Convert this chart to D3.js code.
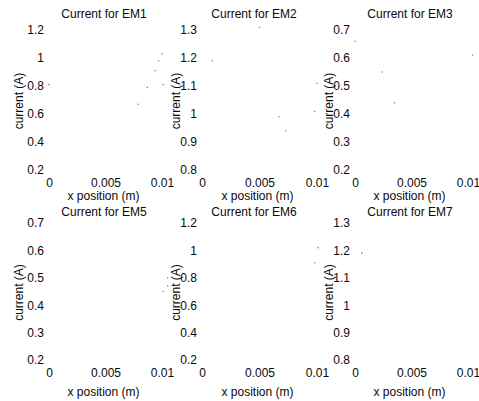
<!DOCTYPE html>
<html>
<head>
<meta charset="utf-8">
<script src="https://cdn.jsdelivr.net/npm/d3@7"></script>
<style>
  body { margin: 0; background: #fff; }
  svg { display: block; }
  text { font-family: "Liberation Sans", Arial, Helvetica, sans-serif; font-size: 12px; fill: #0a0a0a; }
</style>
</head>
<body>
<div id="chart"></div>
<script>
// panels, in reading order
var titles = ["Current for EM1", "Current for EM2", "Current for EM3",
              "Current for EM5", "Current for EM6", "Current for EM7"];
var yDomains = [[0.2, 1.2], [0.8, 1.3], [0.2, 0.7],
                [0.2, 0.7], [0.2, 1.2], [0.8, 1.3]];
var yTicks = [[0.2, 0.4, 0.6, 0.8, 1, 1.2],
              [0.8, 0.9, 1, 1.1, 1.2, 1.3],
              [0.2, 0.3, 0.4, 0.5, 0.6, 0.7],
              [0.2, 0.3, 0.4, 0.5, 0.6, 0.7],
              [0.2, 0.4, 0.6, 0.8, 1, 1.2],
              [0.8, 0.9, 1, 1.1, 1.2, 1.3]];
var xDomain = [0, 0.01];
var xTicks = [0, 0.005, 0.01];
var xLabel = "x position (m)";
var yLabel = "current (A)";

// the few faint samples that survive in the scan, [x, current]
var em1 = [[0.0, 0.81], [0.0079, 0.67], [0.0087, 0.79], [0.0094, 0.91],
           [0.0097, 0.98], [0.0100, 1.03], [0.0101, 0.81]];
var em2 = [[0.0009, 1.19], [0.0050, 1.31], [0.0067, 0.99], [0.0073, 0.94],
           [0.0098, 1.01], [0.0100, 1.11]];
var em3 = [[0.0, 0.66], [0.0024, 0.55], [0.0035, 0.44], [0.0104, 0.61]];
var em5 = [[0.0101, 0.45], [0.0105, 0.47], [0.0105, 0.50]];
var em6 = [[0.0098, 0.91], [0.0101, 1.02]];
var em7 = [[0.0006, 1.19]];
var series = [em1, em2, em3, em5, em6, em7];

(function(){
    var width = 479, height = 401;

    // layout
    var colLeft = [49, 202, 355], colRight = [162, 317, 468];
    var colTitle = [104, 254, 410], colYLabel = [18.5, 175.5, 328.5];
    var rowTop = [30, 223], rowBottom = [170, 360];
    var rowTitle = [18, 216], rowXLabel = [200, 396];

    var svg = d3.select("#chart").append("svg")
        .attr("width", width)
        .attr("height", height);

    svg.append("rect")
        .attr("width", width)
        .attr("height", height)
        .attr("fill", "#fff");

    var fmt = function(d){ return String(+d.toFixed(3)); };

    var drawPanel = function(i){
        var col = i % 3, row = Math.floor(i / 3);
        var x = d3.scaleLinear().domain(xDomain).range([colLeft[col], colRight[col]]);
        var y = d3.scaleLinear().domain(yDomains[i]).range([rowBottom[row], rowTop[row]]);
        var g = svg.append("g");

        var ya = g.append("g")
            .attr("transform", "translate(" + colLeft[col] + ",0)")
            .call(d3.axisLeft(y).tickValues(yTicks[i]).tickSize(0).tickPadding(5).tickFormat(fmt));
        var xa = g.append("g")
            .attr("transform", "translate(0," + rowBottom[row] + ")")
            .call(d3.axisBottom(x).tickValues(xTicks).tickSize(0).tickPadding(8).tickFormat(fmt));
        // the box and ticks did not print, only the labels
        ya.select(".domain").remove();
        xa.select(".domain").remove();
        g.selectAll(".tick text")
            .attr("font-size", null)
            .attr("font-family", null)
            .attr("fill", null);
        g.selectAll(".tick line").remove();

        g.append("text")
            .attr("x", colTitle[col])
            .attr("y", rowTitle[row])
            .attr("text-anchor", "middle")
            .text(titles[i]);

        g.append("text")
            .attr("x", (colLeft[col] + colRight[col]) / 2 - 2)
            .attr("y", rowXLabel[row])
            .attr("text-anchor", "middle")
            .text(xLabel);

        g.append("text")
            .attr("transform", "translate(" + colYLabel[col] + "," +
                  ((rowTop[row] + rowBottom[row]) / 2 + 1) + ") rotate(-90)")
            .attr("dy", "0.35em")
            .attr("text-anchor", "middle")
            .text(yLabel);

        g.selectAll("circle")
            .data(series[i])
            .enter().append("circle")
            .attr("cx", function(d){ return x(d[0]); })
            .attr("cy", function(d){ return y(d[1]); })
            .attr("r", 0.8)
            .attr("fill", "#888");
    };

    d3.range(titles.length).forEach(drawPanel);
})();
</script>
</body>
</html>
